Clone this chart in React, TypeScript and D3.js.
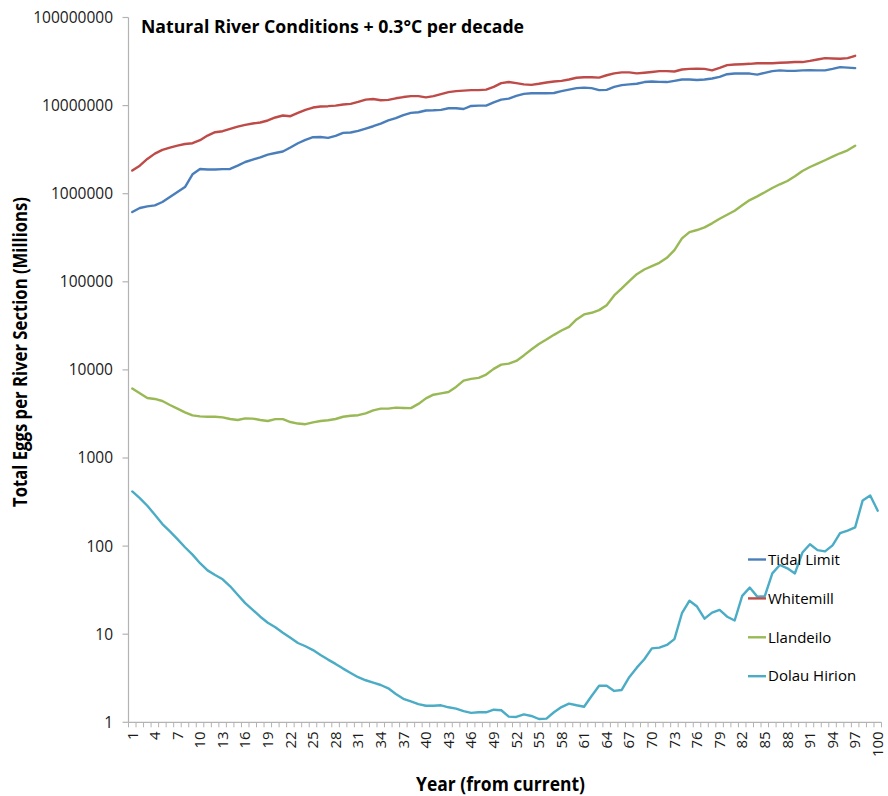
import React from 'react';
import * as d3 from 'd3';

const years = d3.range(1, 101);
const tickYears = d3.range(1, 101, 3);
const yTicks = [1, 10, 100, 1000, 10000, 100000, 1000000, 10000000, 100000000];

const tidalLimit = [
  619000, 689000, 719000, 738000, 805000, 918000, 1046000, 1190000, 1660000, 1910000,
  1880000, 1880000, 1900000, 1910000, 2080000, 2290000, 2440000, 2590000, 2780000, 2900000,
  3010000, 3340000, 3740000, 4080000, 4380000, 4400000, 4300000, 4530000, 4900000, 4950000,
  5160000, 5490000, 5830000, 6260000, 6780000, 7190000, 7780000, 8260000, 8400000, 8790000,
  8850000, 8950000, 9330000, 9330000, 9150000, 9900000, 10000000, 10000000, 10900000, 11700000,
  12000000, 12900000, 13600000, 13800000, 13800000, 13800000, 13900000, 14600000, 15200000, 15800000,
  16000000, 15800000, 15000000, 15100000, 16300000, 17100000, 17400000, 17700000, 18500000, 18800000,
  18600000, 18500000, 19100000, 19800000, 19800000, 19500000, 19800000, 20300000, 21200000, 22700000,
  23100000, 23100000, 23100000, 22500000, 23500000, 24600000, 25100000, 24800000, 24800000, 25100000,
  25300000, 25100000, 25100000, 26100000, 27300000, 27000000, 26600000,
];

const whitemill = [
  1830000, 2080000, 2480000, 2850000, 3140000, 3340000, 3520000, 3670000, 3740000, 4050000,
  4570000, 4990000, 5120000, 5430000, 5780000, 6040000, 6260000, 6430000, 6780000, 7330000,
  7720000, 7580000, 8260000, 8930000, 9510000, 9770000, 9850000, 10000000, 10300000, 10450000,
  11000000, 11700000, 11900000, 11500000, 11600000, 12100000, 12500000, 12800000, 12800000, 12400000,
  12800000, 13500000, 14200000, 14600000, 14800000, 15000000, 15000000, 15200000, 16300000, 18000000,
  18500000, 18000000, 17400000, 17200000, 17700000, 18300000, 18800000, 19100000, 19800000, 20700000,
  21000000, 21000000, 20800000, 22100000, 23200000, 23800000, 23800000, 23200000, 23600000, 24100000,
  24600000, 24600000, 24400000, 25700000, 26100000, 26300000, 26100000, 25100000, 26800000, 28800000,
  29300000, 29500000, 29800000, 30300000, 30300000, 30300000, 30600000, 30900000, 31200000, 31200000,
  32200000, 33400000, 34600000, 34300000, 34000000, 34600000, 36700000,
];

const llandeilo = [
  6140, 5420, 4800, 4680, 4440, 4000, 3630, 3300, 3050, 2970,
  2940, 2940, 2890, 2770, 2700, 2820, 2800, 2700, 2630, 2760,
  2760, 2560, 2460, 2420, 2540, 2630, 2680, 2770, 2940, 3020,
  3060, 3210, 3470, 3630, 3630, 3730, 3700, 3680, 4110, 4750,
  5230, 5420, 5620, 6410, 7560, 7900, 8110, 8850, 10270, 11480,
  11800, 12650, 14600, 17060, 19700, 22100, 25000, 28000, 30800, 37400,
  42600, 44500, 47700, 54300, 70000, 84100, 101900, 122000, 138000, 150700,
  164000, 187000, 229000, 311000, 367000, 387000, 415000, 461000, 520000, 577000,
  641000, 738000, 847000, 933000, 1037000, 1161000, 1279000, 1394000, 1577000, 1811000,
  2010000, 2190000, 2397000, 2630000, 2877000, 3112000, 3510000,
];

const dolauHirion = [
  417, 351, 287, 227, 178, 147, 120, 97, 80, 64,
  53, 47, 42, 35, 28, 22.5, 18.9, 15.8, 13.5, 12,
  10.4, 9.1, 7.95, 7.3, 6.6, 5.8, 5.15, 4.6, 4.07, 3.63,
  3.25, 3.0, 2.82, 2.65, 2.43, 2.1, 1.85, 1.73, 1.61, 1.54,
  1.54, 1.56, 1.48, 1.43, 1.34, 1.28, 1.3, 1.3, 1.39, 1.37,
  1.16, 1.15, 1.23, 1.18, 1.09, 1.1, 1.3, 1.49, 1.63, 1.56,
  1.5, 1.99, 2.6, 2.6, 2.27, 2.33, 3.25, 4.17, 5.2, 6.9,
  7.05, 7.55, 8.8, 17.3, 24, 20.6, 15, 17.6, 18.9, 15.8,
  14.3, 27.2, 33.8, 26.7, 27, 49, 61, 56, 49, 84.5,
  105, 90, 87, 102, 140, 150, 163, 330, 376, 252,
];

const seriesNames = ['Tidal Limit', 'Whitemill', 'Llandeilo', 'Dolau Hirion'];
const seriesColors = ['#4A7EBB', '#BE4B48', '#98B954', '#4BACC6'];
const seriesValues = [tidalLimit, whitemill, llandeilo, dolauHirion];

const W = 888;
const H = 796;
const left = 128.5;
const right = 881.5;
const top = 17.5;
const bottom = 722.3;
const axisColor = '#B3B3B3';
const font = "'Open Sans', 'Liberation Sans', sans-serif";

export default function App() {
  const x = d3.scaleBand<number>().domain(years).range([left, right]).padding(0);
  const cx = (yr: number) => (x(yr) as number) + x.bandwidth() / 2;
  const y = d3.scaleLog().domain([1, 1e8]).range([bottom, top]);

  const line = d3
    .line<number>()
    .x((_, i) => cx(years[i]))
    .y((v) => y(v));

  const boundaries = d3.range(0, years.length + 1).map((k) => left + k * x.bandwidth());

  return (
    <div style={{ position: 'absolute', left: 0, top: 0 }}>
      <svg width={W} height={H} style={{ display: 'block', background: '#fff' }}>
        {/* y axis */}
        <line x1={left} x2={left} y1={top} y2={bottom} stroke={axisColor} strokeWidth={1.2} />
        {yTicks.map((t) => (
          <g key={t}>
            <line x1={left - 6} x2={left} y1={y(t)} y2={y(t)} stroke={axisColor} strokeWidth={1.2} />
            <text
              x={113}
              y={y(t)}
              dy="0.35em"
              textAnchor="end"
              fontFamily={font}
              fontSize={15.5}
              fill="#1a1a1a"
            >
              {t}
            </text>
          </g>
        ))}

        {/* x axis */}
        <line x1={left} x2={right} y1={bottom} y2={bottom} stroke={axisColor} strokeWidth={1.2} />
        {boundaries.map((bx, i) => (
          <line key={i} x1={bx} x2={bx} y1={bottom} y2={bottom + 5} stroke={axisColor} strokeWidth={1} />
        ))}
        {tickYears.map((t) => (
          <text
            key={t}
            transform={`translate(${cx(t)},${bottom + 9}) rotate(-90)`}
            dy="0.35em"
            textAnchor="end"
            fontFamily={font}
            fontSize={15}
            fill="#1a1a1a"
          >
            {t}
          </text>
        ))}

        {/* series */}
        {seriesValues.map((vals, i) => (
          <path
            key={seriesNames[i]}
            d={line(vals) || ''}
            fill="none"
            stroke={seriesColors[i]}
            strokeWidth={2.4}
            strokeLinejoin="round"
            strokeLinecap="round"
          />
        ))}

        {/* titles */}
        <text
          x={141}
          y={33}
          fontFamily={font}
          fontWeight="bold"
          fontSize={18}
          textLength={383}
          lengthAdjust="spacingAndGlyphs"
          fill="#000"
        >
          Natural River Conditions + 0.3°C per decade
        </text>
        <text
          x={500.5}
          y={791}
          textAnchor="middle"
          fontFamily={font}
          fontWeight="bold"
          fontSize={19}
          textLength={169}
          lengthAdjust="spacingAndGlyphs"
          fill="#000"
        >
          Year (from current)
        </text>
        <text
          transform="translate(27,352) rotate(-90)"
          textAnchor="middle"
          fontFamily={font}
          fontWeight="bold"
          fontSize={19}
          textLength={310}
          lengthAdjust="spacingAndGlyphs"
          fill="#000"
        >
          Total Eggs per River Section (Millions)
        </text>

        {/* legend */}
        {seriesNames.map((name, i) => {
          const ly = 559.5 + i * 38.9;
          return (
            <g key={name}>
              <line x1={748} x2={766} y1={ly} y2={ly} stroke={seriesColors[i]} strokeWidth={2.4} />
              <text x={768} y={ly} dy="0.35em" fontFamily={font} fontSize={15} fill="#000">
                {name}
              </text>
            </g>
          );
        })}
      </svg>
    </div>
  );
}
